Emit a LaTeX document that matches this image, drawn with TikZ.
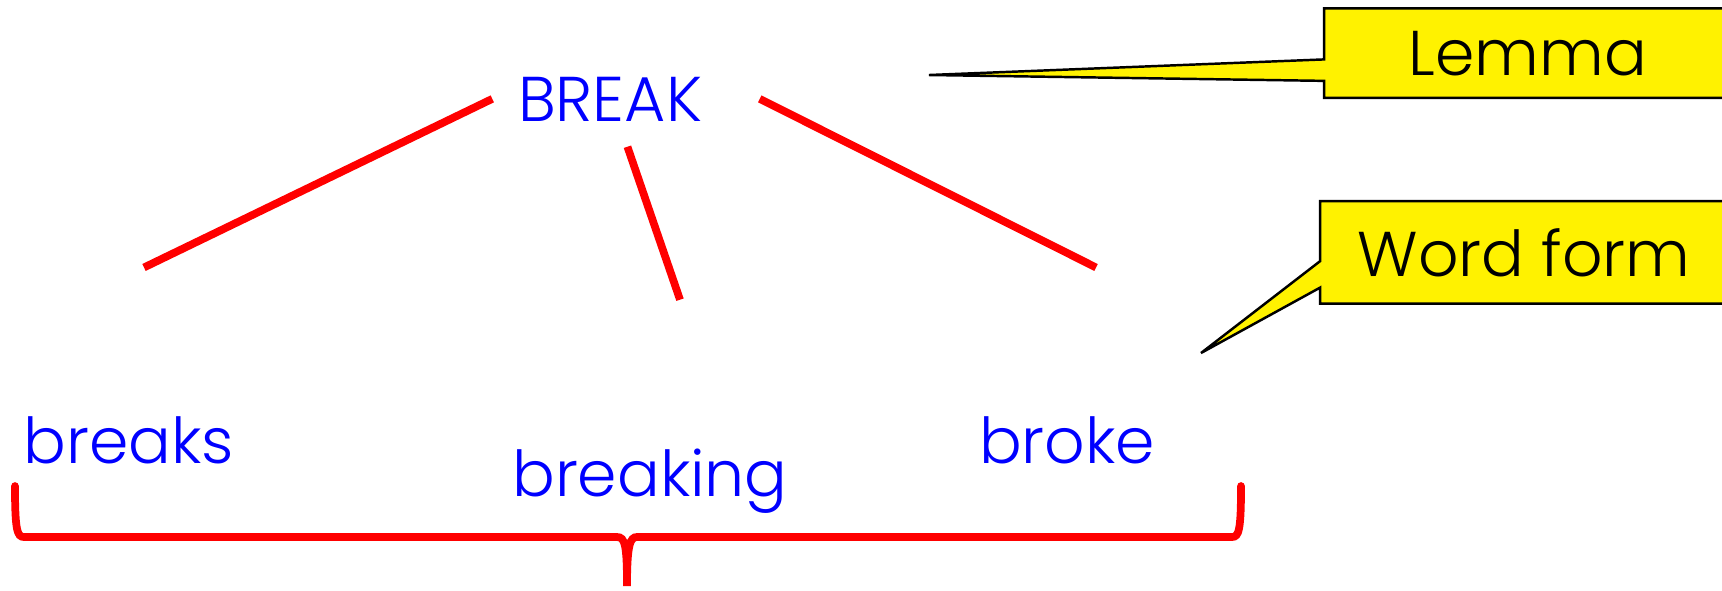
\documentclass[tikz,border=0pt]{standalone}
\usepackage{fontspec}
\setmainfont{Poppins}[UprightFont=* Light]
\usetikzlibrary{calc,backgrounds}

\begin{document}
\begin{tikzpicture}[x=0.01cm,y=-0.01cm]
        \tikzstyle{every node} = [inner sep=0pt, font=\fontsize{18}{20}\selectfont]
        \tikzstyle{word} = [text=blue, anchor=base]
        \tikzstyle{link} = [draw=red, line width=2.2pt]
        \tikzstyle{note} = [anchor=base, minimum width=4.06cm]
        \tikzstyle{bubble} = [fill=yellow, draw=black, line width=0.7pt]
        \useasboundingbox (0,0) rectangle (1722,590);
        \node[word, inner sep=0.25cm] (brk) at (610,121) {BREAK};
        \node[word] (breaks) at (129,463) {breaks};
        \node[word] (breaking) at (650,496) {breaking};
        \node[word] (broke) at (1067,463) {broke};
        \node[note, minimum height=0.88cm] (lemma) at (1528,75) {Lemma};
        \node[note, minimum height=1.01cm] (wordform) at (1524,276) {Word form};
        \coordinate (brk-e) at ($(brk.east)+(32,0)$);
        \coordinate (breaks-top) at ($(breaks.north)+(15,-148)$);
        \coordinate (breaking-top) at ($(breaking.north)+(30,-148)$);
        \coordinate (broke-top) at ($(broke.north)+(29,-148)$);
        \foreach \from/\to in {brk.west/breaks-top, brk.-70/breaking-top, brk-e/broke-top}
            \draw[link] (\from) -- (\to);
        \coordinate (lemma-tip) at (929,75);
        \coordinate (wordform-tip) at (1201,353);
        \begin{scope}[on background layer]
            \draw[bubble] (lemma.north west) -- (lemma.north east) -- (lemma.south east) -- (lemma.south west)
                -- ($(lemma.south west)+(0,-17)$) -- (lemma-tip) -- ($(lemma.north west)+(0,51)$) -- cycle;
            \draw[bubble] (wordform.north west) -- (wordform.north east) -- (wordform.south east) -- (wordform.south west)
                -- ($(wordform.south west)+(0,-16)$) -- (wordform-tip) -- ($(wordform.north west)+(0,60)$) -- cycle;
        \end{scope}
        \draw[red, line width=2.2pt, line cap=round] (15,486) .. controls (15,530) and (17,537) .. (24,537) -- (617,537)
            .. controls (625,537) and (627,545) .. (627,586) .. controls (627,545) and (630,537) .. (637,537)
            -- (1232,537) .. controls (1239,537) and (1241,530) .. (1241,486);
    \end{tikzpicture}
\end{document}
